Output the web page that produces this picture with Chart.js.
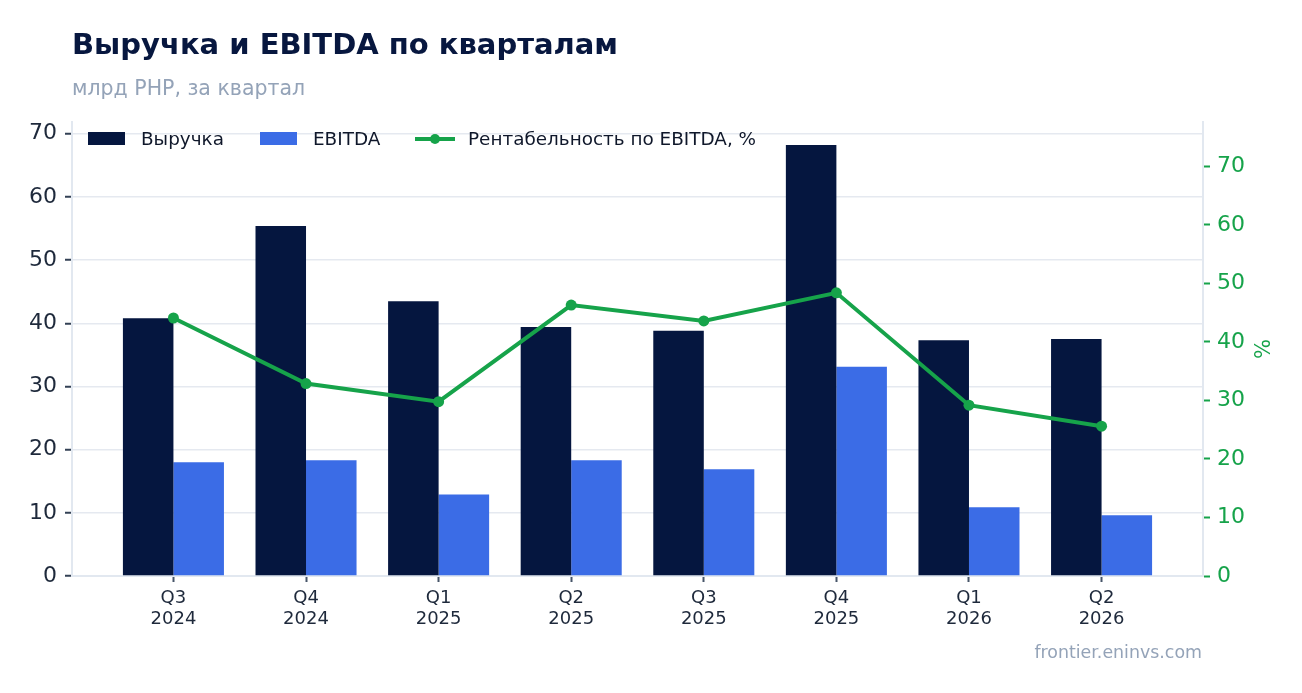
<!DOCTYPE html>
<html>
<head>
<meta charset="utf-8">
<script src="https://cdn.jsdelivr.net/npm/chart.js@4.4.1/dist/chart.umd.min.js"></script>
<style>
  html, body { margin: 0; padding: 0; background: #ffffff; }
  #wrap { position: relative; width: 1302px; height: 693px; font-family: "DejaVu Sans", sans-serif; overflow: hidden; }
  #chartBox { position: absolute; left: 0; top: 0; width: 1302px; height: 693px; }
  .title { position: absolute; left: 72px; top: 24px; height: 40px; line-height: 40px; font-size: 29px; font-weight: bold; color: #07173f; white-space: nowrap; }
  .subtitle { position: absolute; left: 72px; top: 76px; height: 24px; line-height: 24px; font-size: 20.5px; color: #94a3b8; white-space: nowrap; }
  .footer { position: absolute; right: 100px; top: 641px; height: 22px; line-height: 22px; font-size: 17.4px; color: #94a3b8; white-space: nowrap; }
  .legend { position: absolute; left: 88px; top: 127px; height: 24px; font-size: 18.4px; color: #0f172a; }
  .legend .item { position: absolute; top: 0; height: 24px; line-height: 24px; white-space: nowrap; }
  .legend .box { position: absolute; top: 5px; width: 37px; height: 13px; }
  .legend .txt { position: absolute; top: 0; }
  .legend .ln { position: absolute; top: 10px; width: 40px; height: 4px; }
  .legend .dot { position: absolute; top: 7px; width: 10px; height: 10px; border-radius: 50%; }
</style>
</head>
<body>
<div id="wrap">
  <div id="chartBox"><canvas id="c"></canvas></div>
  <div class="title">Выручка и EBITDA по кварталам</div>
  <div class="subtitle">млрд РНР, за квартал</div>
  <div class="legend" id="legend"></div>
  <div class="footer">frontier.eninvs.com</div>
</div>
<script>
// ---- data ----
const quarters = ['Q3', 'Q4', 'Q1', 'Q2', 'Q3', 'Q4', 'Q1', 'Q2'];
const years = ['2024', '2024', '2025', '2025', '2025', '2025', '2026', '2026'];
const revenue = [40.8, 55.4, 43.5, 39.4, 38.8, 68.2, 37.3, 37.5];
const ebitda = [18.0, 18.3, 12.9, 18.3, 16.9, 33.1, 10.9, 9.6];
const margin = [44.1, 32.9, 29.8, 46.3, 43.6, 48.4, 29.2, 25.6];
const seriesNames = ['Выручка', 'EBITDA', 'Рентабельность по EBITDA, %'];
const leftTicks = [0, 10, 20, 30, 40, 50, 60, 70];
const rightTicks = [0, 10, 20, 30, 40, 50, 60, 70];

const colRevenue = '#05163f';
const colEbitda = '#3b6ce6';
const colMargin = '#16a34a';

const idx = quarters.map((q, i) => i);
const toPts = arr => arr.map((v, i) => ({ x: idx[i], y: v }));

// ---- legend (HTML) ----
const legend = document.getElementById('legend');
legend.innerHTML =
  '<div class="item" style="left:0"><div class="box" style="left:0;background:' + colRevenue + '"></div><div class="txt" style="left:53px">' + seriesNames[0] + '</div></div>' +
  '<div class="item" style="left:172px"><div class="box" style="left:0;background:' + colEbitda + '"></div><div class="txt" style="left:53px">' + seriesNames[1] + '</div></div>' +
  '<div class="item" style="left:327px"><div class="ln" style="left:0;background:' + colMargin + '"></div><div class="dot" style="left:15px;background:' + colMargin + '"></div><div class="txt" style="left:53px">' + seriesNames[2] + '</div></div>';

// ---- chart ----
new Chart(document.getElementById('c'), {
  type: 'bar',
  data: {
    datasets: [
      {
        type: 'line', label: seriesNames[2], data: toPts(margin), yAxisID: 'y1',
        borderColor: colMargin, backgroundColor: colMargin, borderWidth: 4,
        pointRadius: 5.5, pointBackgroundColor: colMargin, pointBorderWidth: 0,
        tension: 0, order: 0
      },
      {
        label: seriesNames[0], data: toPts(revenue), yAxisID: 'y',
        backgroundColor: colRevenue, categoryPercentage: 0.762, barPercentage: 1.0, order: 1
      },
      {
        label: seriesNames[1], data: toPts(ebitda), yAxisID: 'y',
        backgroundColor: colEbitda, categoryPercentage: 0.762, barPercentage: 1.0, order: 1
      }
    ]
  },
  options: {
    responsive: true,
    maintainAspectRatio: false,
    animation: false,
    devicePixelRatio: 1,
    layout: { padding: { top: 122, left: 0, right: 0, bottom: 0 } },
    plugins: { legend: { display: false }, tooltip: { enabled: false }, title: { display: false } },
    scales: {
      x: {
        type: 'linear', min: -0.765, max: 7.765, offset: false,
        afterBuildTicks: s => { s.ticks = idx.map(v => ({ value: v })); },
        afterFit: s => { s.height = 117; },
        grid: { display: true, offset: false, drawOnChartArea: false, drawTicks: true, tickLength: 6, tickColor: '#475569', tickWidth: 2 },
        border: { display: true, color: '#e2e8f0', width: 2 },
        ticks: {
          autoSkip: false, maxRotation: 0, padding: 6, color: '#1e293b',
          font: { family: 'DejaVu Sans', size: 18, lineHeight: 1.15 },
          callback: v => [quarters[v], years[v]]
        }
      },
      y: {
        position: 'left', min: 0, max: 71.85,
        afterBuildTicks: s => { s.ticks = leftTicks.map(v => ({ value: v })); },
        afterFit: s => { s.width = 72; },
        grid: { color: '#e5e9f0', lineWidth: 1.5, tickLength: 7, tickColor: '#334155', tickWidth: 2 },
        border: { display: true, color: '#e2e8f0', width: 2 },
        ticks: { padding: 8, color: '#1e293b', font: { family: 'DejaVu Sans', size: 22 } }
      },
      y1: {
        position: 'right', min: 0, max: 77.6,
        afterBuildTicks: s => { s.ticks = rightTicks.map(v => ({ value: v })); },
        afterFit: s => { s.width = 99; },
        grid: { drawOnChartArea: false, tickLength: 7, tickColor: colMargin, tickWidth: 2 },
        border: { display: true, color: '#e2e8f0', width: 2 },
        ticks: { padding: 7, color: colMargin, font: { family: 'DejaVu Sans', size: 22 } },
        title: { display: true, text: '%', color: colMargin, font: { family: 'DejaVu Sans', size: 21 }, padding: { top: 30, bottom: 0 } }
      }
    }
  }
});
</script>
</body>
</html>
